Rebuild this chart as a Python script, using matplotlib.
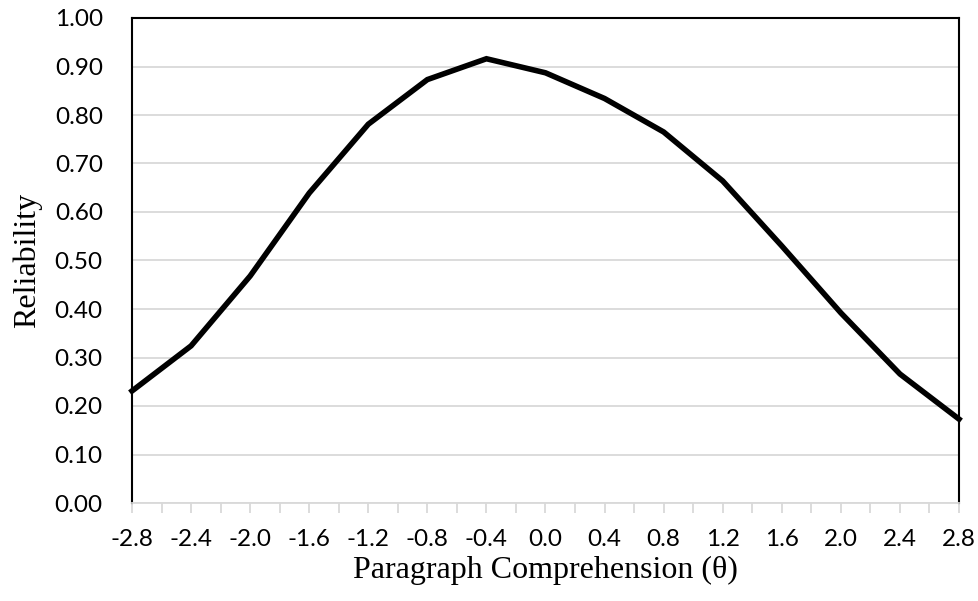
import numpy as np
import matplotlib.pyplot as plt
from matplotlib.ticker import MultipleLocator

# Test information curve: reliability across the ability scale
theta = [-2.8, -2.4, -2.0, -1.6, -1.2, -0.8, -0.4, 0.0, 0.4, 0.8, 1.2, 1.6, 2.0, 2.4, 2.8]
reliability = [0.231, 0.324, 0.468, 0.639, 0.781, 0.873, 0.916, 0.887, 0.834, 0.765,
               0.664, 0.530, 0.392, 0.266, 0.173]

fig = plt.figure(figsize=(9.79, 6.01), dpi=100)
ax = fig.add_axes([132 / 979, 1 - 503 / 601, (959 - 132) / 979, (503 - 18) / 601])

ax.plot(theta, reliability, color='black', lw=4, solid_joinstyle='miter', clip_on=False, zorder=3)

ax.set_xlim(-2.8, 2.8)
ax.set_ylim(0, 1.0)
ax.xaxis.set_major_locator(MultipleLocator(0.4))
ax.xaxis.set_minor_locator(MultipleLocator(0.2))
ax.yaxis.set_major_locator(MultipleLocator(0.1))
ax.set_xticklabels([f'{v:.1f}' for v in ax.get_xticks()])
ax.yaxis.set_major_formatter(plt.FuncFormatter(lambda v, p: f'{v:.2f}'))

ax.grid(axis='y', color='#d9d9d9', lw=1.3)
ax.set_axisbelow(True)

for side in ['left', 'right', 'top']:
    ax.spines[side].set_color('black')
    ax.spines[side].set_linewidth(1.5)
ax.spines['bottom'].set_color('#d9d9d9')
ax.spines['bottom'].set_linewidth(1.3)

ax.tick_params(axis='x', which='both', direction='out', length=7, width=1.3, color='#d9d9d9',
               labelsize=17.5, pad=12)
ax.tick_params(axis='y', which='both', length=0, labelsize=17.5, pad=21)
for lab in ax.get_xticklabels() + ax.get_yticklabels():
    lab.set_fontfamily('Lato')

ax.set_xlabel('Paragraph Comprehension (θ)', fontfamily='Liberation Serif', fontsize=23, labelpad=4)
ax.set_ylabel('Reliability', fontfamily='Liberation Serif', fontsize=23, labelpad=9)

fig.savefig('out.png', dpi=100)
